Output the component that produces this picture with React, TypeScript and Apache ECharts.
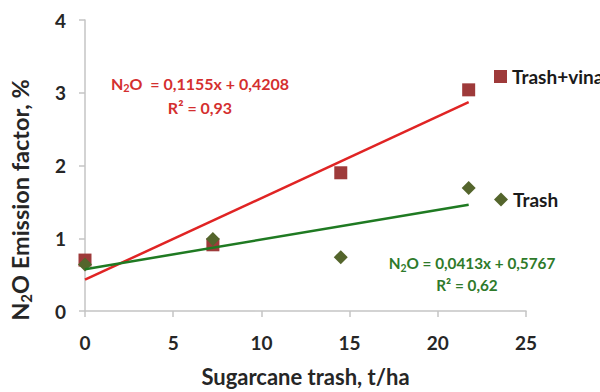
import React, { useEffect, useRef } from "react";
import * as echarts from "echarts";

const xValues = [0, 7.25, 14.5, 21.75];
const trashVinasse = [0.7, 0.91, 1.9, 3.04];
const trash = [0.64, 0.99, 0.74, 1.69];
const trendVinasseX = [0, 21.75];
const trendVinasseY = [0.43, 2.87];
const trendTrashX = [0, 21.75];
const trendTrashY = [0.575, 1.46];
const xTicks = [0, 5, 10, 15, 20, 25];
const yTicks = [0, 1, 2, 3, 4];

const FONT = "Lato, 'Open Sans', sans-serif";
const RED_TXT = "#d42f2f";
const GREEN_TXT = "#2e7a2a";

export default function App() {
  const ref = useRef<HTMLDivElement>(null);
  useEffect(() => {
    if (!ref.current) return;
    const chart = echarts.init(ref.current, undefined, { renderer: "svg" });
    const pairs = (xs: number[], ys: number[]) => xs.map((x, i) => [x, ys[i]]);
    const eqRich = (color: string, size: number) => ({
      n: { fontSize: size, fontWeight: "bold", fill: color, fontFamily: FONT, lineHeight: 20 },
      s: { fontSize: size * 0.68, fontWeight: "bold", fill: color, fontFamily: FONT, lineHeight: 12, verticalAlign: "bottom" },
    });
    const axisLabel = { color: "#262626", fontSize: 19, fontWeight: "bold", fontFamily: FONT };
    chart.setOption({
      animation: false,
      backgroundColor: "#ffffff",
      grid: { left: 85, right: 74, top: 20, bottom: 78 },
      xAxis: {
        type: "value",
        min: xTicks[0],
        max: xTicks[xTicks.length - 1],
        interval: 5,
        splitLine: { show: false },
        axisLine: { show: true, lineStyle: { color: "#c4c4c4", width: 1.5 } },
        axisTick: { show: true, length: 6, lineStyle: { color: "#c4c4c4", width: 1.5 } },
        axisLabel: { ...axisLabel, margin: 22 },
        name: "Sugarcane trash, t/ha",
        nameLocation: "middle",
        nameGap: 54,
        nameTextStyle: { color: "#262626", fontSize: 22, fontWeight: "bold", fontFamily: FONT },
      },
      yAxis: {
        type: "value",
        min: yTicks[0],
        max: yTicks[yTicks.length - 1],
        interval: 1,
        splitLine: { show: false },
        axisLine: { show: true, lineStyle: { color: "#c4c4c4", width: 1.5 } },
        axisTick: { show: true, length: 6, lineStyle: { color: "#c4c4c4", width: 1.5 } },
        axisLabel: { ...axisLabel, margin: 19 },
      },
      legend: [
        {
          data: [{ name: "Trash+vinasse", icon: "rect" }],
          left: 494,
          top: 67,
          padding: 0,
          itemWidth: 13,
          itemHeight: 13,
          itemGap: 0,
          textStyle: { color: "#1a1a1a", fontSize: 19, fontWeight: "bold", fontFamily: FONT },
        },
        {
          data: [{ name: "Trash", icon: "diamond" }],
          left: 494,
          top: 190,
          padding: 0,
          itemWidth: 14,
          itemHeight: 14,
          itemGap: 0,
          textStyle: { color: "#1a1a1a", fontSize: 19, fontWeight: "bold", fontFamily: FONT },
        },
      ],
      series: [
        {
          name: "Trash+vinasse",
          type: "scatter",
          symbol: "rect",
          symbolSize: 13,
          itemStyle: { color: "#9e3a3a", opacity: 1 },
          data: pairs(xValues, trashVinasse),
          z: 2,
        },
        {
          name: "Trash",
          type: "scatter",
          symbol: "diamond",
          symbolSize: 14,
          itemStyle: { color: "#54652c", opacity: 1 },
          data: pairs(xValues, trash),
          z: 3,
        },
        {
          name: "Trend vinasse",
          type: "line",
          showSymbol: false,
          symbol: "none",
          lineStyle: { color: "#e02424", width: 2.5 },
          data: pairs(trendVinasseX, trendVinasseY),
          z: 4,
        },
        {
          name: "Trend trash",
          type: "line",
          showSymbol: false,
          symbol: "none",
          lineStyle: { color: "#1f7a22", width: 2.5 },
          data: pairs(trendTrashX, trendTrashY),
          z: 5,
        },
      ],
      graphic: [
        {
          type: "text",
          x: 20,
          y: 200,
          rotation: Math.PI / 2,
          style: {
            text: "{n|N}{s|2}{n|O Emission factor, %}",
            rich: {
              n: { fontSize: 23.5, fontWeight: "bold", fill: "#262626", fontFamily: FONT, lineHeight: 26 },
              s: { fontSize: 15, fontWeight: "bold", fill: "#262626", fontFamily: FONT, lineHeight: 14, verticalAlign: "bottom" },
            },
            align: "center",
            verticalAlign: "middle",
          },
        },
        {
          type: "text",
          x: 200,
          y: 83,
          style: {
            text: "{n|N}{s|2}{n|O  = 0,1155x + 0,4208}",
            rich: eqRich(RED_TXT, 16),
            align: "center",
            verticalAlign: "middle",
          },
        },
        {
          type: "text",
          x: 200,
          y: 107,
          style: {
            text: "{n|R² = 0,93}",
            rich: eqRich(RED_TXT, 16),
            align: "center",
            verticalAlign: "middle",
          },
        },
        {
          type: "text",
          x: 472,
          y: 263,
          style: {
            text: "{n|N}{s|2}{n|O = 0,0413x + 0,5767}",
            rich: eqRich(GREEN_TXT, 15.3),
            align: "center",
            verticalAlign: "middle",
          },
        },
        {
          type: "text",
          x: 467,
          y: 285,
          style: {
            text: "{n|R² = 0,62}",
            rich: eqRich(GREEN_TXT, 15.3),
            align: "center",
            verticalAlign: "middle",
          },
        },
      ],
    });
    return () => chart.dispose();
  }, []);
  return (
    <div
      ref={ref}
      style={{ position: "fixed", left: 0, top: 0, width: 600, height: 392, overflow: "hidden" }}
    />
  );
}
